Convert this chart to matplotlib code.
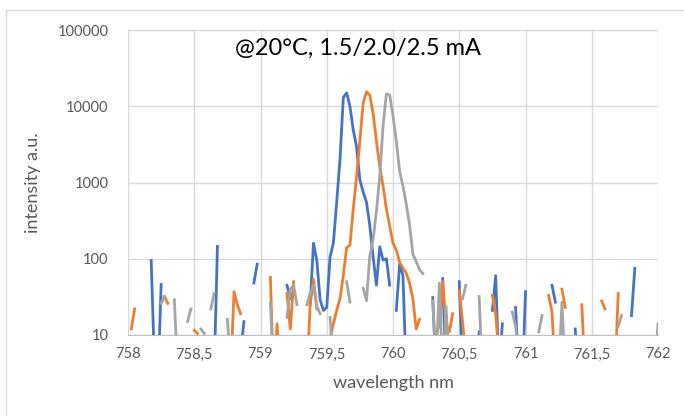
import numpy as np
import matplotlib.pyplot as plt
from matplotlib.patches import Rectangle
from matplotlib.ticker import FixedLocator, FuncFormatter, NullLocator

plt.rcParams['font.family'] = ['Lato', 'DejaVu Sans']

# wavelength grid of the spectrometer (nm)
wavelength = np.linspace(758, 762, 161)

# intensities (a.u.), 0 = no value (gap on log axis)
blue = [
    0, 0, 0, 0, 0, 0, 0, 95, 4, 2,
    46, 0, 0, 0, 0, 0, 0, 0, 0, 0,
    0, 0, 0, 0, 0, 0, 3, 145, 0, 0,
    0, 0, 0, 3, 6, 15, 0, 0, 48, 85,
    0, 0, 0, 0, 0, 0, 0, 0, 45, 30,
    38, 0, 0, 0, 0, 25, 160, 95, 29, 21,
    23, 106, 161, 550, 2000, 13000, 15000, 10000, 4900, 2950,
    1080, 750, 550, 270, 106, 45, 144, 96, 100, 45,
    0, 21, 85, 60, 3, 0, 0, 0, 0, 0,
    0, 0, 31, 3, 0, 55, 3, 0, 0, 0,
    50, 3, 0, 0, 0, 2, 11, 0, 0, 0,
    21, 60, 3, 14, 0, 0, 0, 23, 3, 2,
    37, 0, 0, 0, 0, 0, 0, 0, 45, 27,
    0, 0, 0, 0, 0, 12, 3, 0, 0, 0,
    0, 0, 0, 0, 0, 0, 0, 0, 0, 0,
    0, 0, 18, 75, 0, 0, 0, 0, 0, 0,
    0,
]
orange = [
    0, 12, 22, 0, 0, 0, 0, 0, 0, 0,
    0, 32, 26, 0, 0, 0, 0, 0, 0, 0,
    11.5, 10.5, 0, 0, 0, 0, 0, 0, 0, 0,
    0, 3, 37, 25, 19, 0, 0, 0, 0, 0,
    0, 0, 0, 57, 2, 14, 3, 0, 35, 12,
    50, 0, 0, 0, 3, 25, 54, 22, 0, 0,
    3, 9, 14, 21, 30, 60, 140, 150, 450, 1200,
    3500, 11000, 15500, 14000, 8000, 3500, 1600, 900, 450, 270,
    160, 130, 90, 75, 65, 48, 30, 12, 16, 0,
    0, 0, 0, 10, 14, 50, 14, 11, 19, 0,
    38, 15, 5, 0, 0, 0, 0, 0, 0, 0,
    33, 19, 5, 0, 0, 0, 0, 0, 0, 0,
    0, 0, 0, 0, 0, 0, 0, 33, 20, 3,
    0, 40, 23, 0, 0, 0, 0, 25, 3, 0,
    0, 0, 0, 28, 22, 0, 0, 3, 35, 0,
    0, 0, 0, 0, 0, 0, 0, 0, 0, 0,
    0,
]
gray = [
    0, 0, 0, 0, 0, 0, 0, 0, 0, 0,
    26, 32, 0, 0, 29, 3, 0, 0, 15, 22,
    0, 0, 12, 10.5, 0, 22, 35, 0, 0, 0,
    16, 4, 0, 0, 0, 0, 0, 0, 0, 0,
    0, 0, 0, 26, 3, 0, 0, 0, 17, 40,
    45, 25, 0, 0, 25, 35, 45, 24, 19, 0,
    0, 17, 4, 0, 0, 0, 50, 27, 0, 0,
    0, 41, 28, 110, 180, 420, 1200, 5500, 14500, 14000,
    7500, 3500, 1400, 900, 520, 280, 115, 92, 72, 64,
    0, 0, 28, 4, 48, 3, 24, 4, 0, 0,
    0, 30, 45, 0, 0, 0, 32, 3, 0, 0,
    0, 0, 0, 0, 0, 0, 20, 13, 5, 0,
    0, 0, 0, 0, 11, 18, 0, 0, 0, 0,
    3, 27, 3, 0, 0, 0, 0, 0, 0, 0,
    0, 0, 0, 0, 0, 0, 0, 0, 13, 18,
    0, 0, 0, 0, 0, 0, 0, 0, 0, 3,
    14,
]

x_ticks = [758, 758.5, 759, 759.5, 760, 760.5, 761, 761.5, 762]
y_ticks = [10, 100, 1000, 10000, 100000]

fig = plt.figure(figsize=(6.84, 4.16), dpi=100)
ax = fig.add_axes([128 / 684, 1 - 335 / 416, 530 / 684, 305 / 416])

# chart area frame (only left and top visible in crop)
fig.patches.append(Rectangle((6 / 684, -0.5), 2, 1.5 - 10 / 416, transform=fig.transFigure,
                             fill=False, edgecolor='#d9d9d9', linewidth=1, clip_on=False))

ax.plot(wavelength, blue, color='#4472C4', lw=2.0, solid_joinstyle='round', zorder=3)
ax.plot(wavelength, orange, color='#ED7D31', lw=2.0, solid_joinstyle='round', zorder=4)
ax.plot(wavelength, gray, color='#A5A5A5', lw=2.0, solid_joinstyle='round', zorder=5)

ax.set_yscale('log', nonpositive='mask')
ax.set_ylim(10, 100000)
ax.set_xlim(758, 762)
ax.yaxis.set_major_locator(FixedLocator(y_ticks))
ax.yaxis.set_minor_locator(NullLocator())
ax.yaxis.set_major_formatter(FuncFormatter(lambda v, p: f"{int(round(v))}"))
ax.xaxis.set_major_locator(FixedLocator(x_ticks))
ax.xaxis.set_major_formatter(FuncFormatter(lambda v, p: f"{v:g}".replace('.', ',')))

ax.grid(True, color='#d9d9d9', lw=1)
ax.set_axisbelow(True)
for s in ['top', 'right', 'left']:
    ax.spines[s].set_visible(False)
ax.spines['bottom'].set_color('#bfbfbf')
ax.tick_params(length=0, labelsize=10.5, labelcolor='#595959')
ax.tick_params(axis='y', pad=14)
ax.tick_params(axis='x', pad=9)

ax.set_xlabel('wavelength nm', fontsize=13, color='#595959', labelpad=10)
ax.set_ylabel('intensity a.u.', fontsize=13, color='#595959', labelpad=12)

ax.text(0.434, 0.94, '@20°C, 1.5/2.0/2.5 mA', transform=ax.transAxes,
        ha='center', va='center', fontsize=17, color='black')

fig.savefig('out.png', dpi=100)
